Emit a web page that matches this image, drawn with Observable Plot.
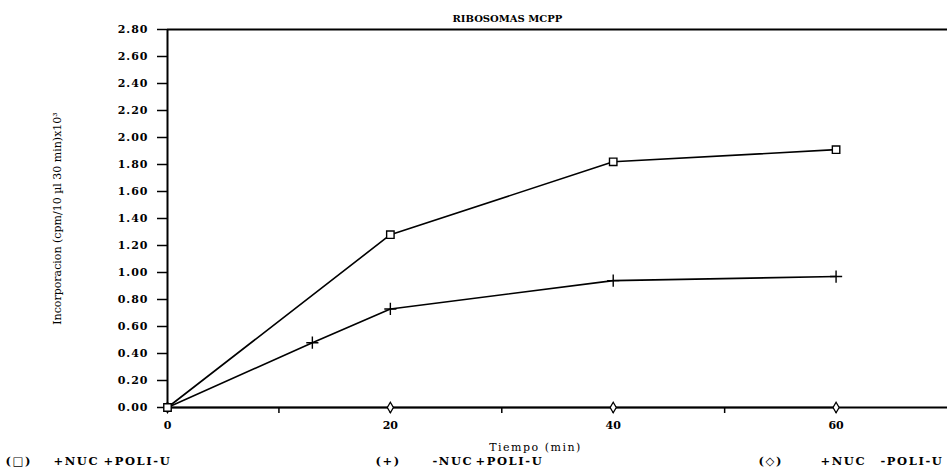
<!DOCTYPE html>
<html>
<head>
<meta charset="utf-8">
<script src="https://cdn.jsdelivr.net/npm/d3@7"></script>
<script src="https://cdn.jsdelivr.net/npm/@observablehq/plot@0.6"></script>
<style>
  html, body { margin: 0; padding: 0; background: #fff; }
  #chart svg { display: block; }
</style>
</head>
<body>
<div id="chart"></div>
<script>
// ---- data ----
const title = "RIBOSOMAS MCPP";
const xLabel = "Tiempo (min)";
const yLabel = "Incorporacion (cpm/10 µl 30 min)x10³";

const timeSquare = [0, 20, 40, 60];
const valSquare  = [0, 1.28, 1.82, 1.91];          // (□) +NUC +POLI-U

const timePlus = [0, 13, 20, 40, 60];
const valPlus  = [0, 0.48, 0.73, 0.94, 0.97];       // (+) -NUC +POLI-U

const timeDiamond = [0, 20, 40, 60];
const valDiamond  = [0, 0, 0, 0];                   // (◇) +NUC -POLI-U

const xTicksLabeled = [0, 20, 40, 60];
const xTicksMinor   = [10, 20, 30, 40, 50, 60];
const yTicks = [0, 0.2, 0.4, 0.6, 0.8, 1.0, 1.2, 1.4, 1.6, 1.8, 2.0, 2.2, 2.4, 2.6, 2.8];

const legendSymbols = ["(□)", "(+)", "(◇)"];
const legendNuc     = ["+NUC", "-NUC", "+NUC"];
const legendPoli    = ["+POLI-U", "+POLI-U", "-POLI-U"];

// ---- tables ----
const sq = timeSquare.map((t, i) => ({t, v: valSquare[i]}));
const pl = timePlus.map((t, i) => ({t, v: valPlus[i]}));
const di = timeDiamond.map((t, i) => ({t, v: valDiamond[i]}));

const W = 947, H = 471;
const mL = 167, mT = 29, mB = 64, mR = 0;

// legend layout (absolute pixel x of each piece)
const legendX = [[5, 53, 103], [375, 432, 475], [758, 820, 880]];
const legendMarks = [];
legendX.forEach((xs, i) => {
  [legendSymbols[i], legendNuc[i], legendPoli[i]].forEach((s, j) => {
    legendMarks.push(Plot.text([s], {
      frameAnchor: "bottom-left", dx: xs[j] - mL, dy: 57,
      textAnchor: "start", fontSize: 11.5, fontWeight: "bold"
    }));
  });
});

const chart = Plot.plot({
  width: W,
  height: H,
  marginLeft: mL,
  marginRight: mR,
  marginTop: mT,
  marginBottom: mB,
  style: {fontFamily: "DejaVu Serif", fontWeight: "bold", fontSize: "11px", background: "white", color: "black"},
  x: {domain: [0, 70]},
  y: {domain: [0, 2.8]},
  marks: [
    // frame lines
    Plot.ruleY([2.8], {stroke: "black", strokeWidth: 2}),
    Plot.ruleY([0], {stroke: "black", strokeWidth: 2}),
    Plot.ruleX([0], {stroke: "black", strokeWidth: 2}),
    // axes
    Plot.axisY({ticks: yTicks, tickFormat: d => d.toFixed(2), tickSize: 10, tickPadding: 9, label: null, strokeWidth: 1.5}),
    Plot.axisX({ticks: xTicksMinor, tickFormat: () => "", tickSize: 6, label: null, strokeWidth: 1.5}),
    Plot.axisX({ticks: xTicksLabeled, tickSize: 0, tickPadding: 14, label: null}),
    // series lines
    Plot.line(sq, {x: "t", y: "v", stroke: "black", strokeWidth: 1.6}),
    Plot.line(pl, {x: "t", y: "v", stroke: "black", strokeWidth: 1.6}),
    Plot.line(di, {x: "t", y: "v", stroke: "black", strokeWidth: 1.6}),
    // markers
    Plot.dot(di, {x: "t", y: "v", symbol: "diamond", r: 3.2, fill: "white", stroke: "black", strokeWidth: 1.3}),
    Plot.dot(pl.filter(d => d.t > 0), {x: "t", y: "v", symbol: "plus", r: 4, stroke: "black", strokeWidth: 1.4}),
    Plot.dot(sq, {x: "t", y: "v", symbol: "square", r: 4.2, fill: "white", stroke: "black", strokeWidth: 1.4}),
    // title
    Plot.text([title], {frameAnchor: "top-left", dx: 452 - mL, dy: -15, textAnchor: "start", fontSize: 10, fontWeight: "bold"}),
    // y label
    Plot.text([yLabel], {frameAnchor: "left", dx: 57 - mL, rotate: -90, textAnchor: "middle", fontSize: 11, fontWeight: "normal"}),
    // x label
    Plot.text([xLabel], {frameAnchor: "bottom-left", dx: 535 - mL, dy: 43, textAnchor: "middle", fontSize: 11, fontWeight: "normal"}),
    // legend
    ...legendMarks
  ]
});

// widen the letter spacing of the legend, axis title and y tick labels (the reference font is wide)
const legendTexts = new Set([...legendSymbols, ...legendNuc, ...legendPoli]);
const yTickTexts = new Set(yTicks.map(d => d.toFixed(2)));
d3.select(chart).selectAll("text").each(function () {
  const t = this.textContent;
  if (legendTexts.has(t)) this.setAttribute("letter-spacing", "1.6");
  else if (t === xLabel) this.setAttribute("letter-spacing", "1.5");
  else if (yTickTexts.has(t)) this.setAttribute("letter-spacing", "1");
});

document.getElementById("chart").appendChild(chart);
</script>
</body>
</html>
